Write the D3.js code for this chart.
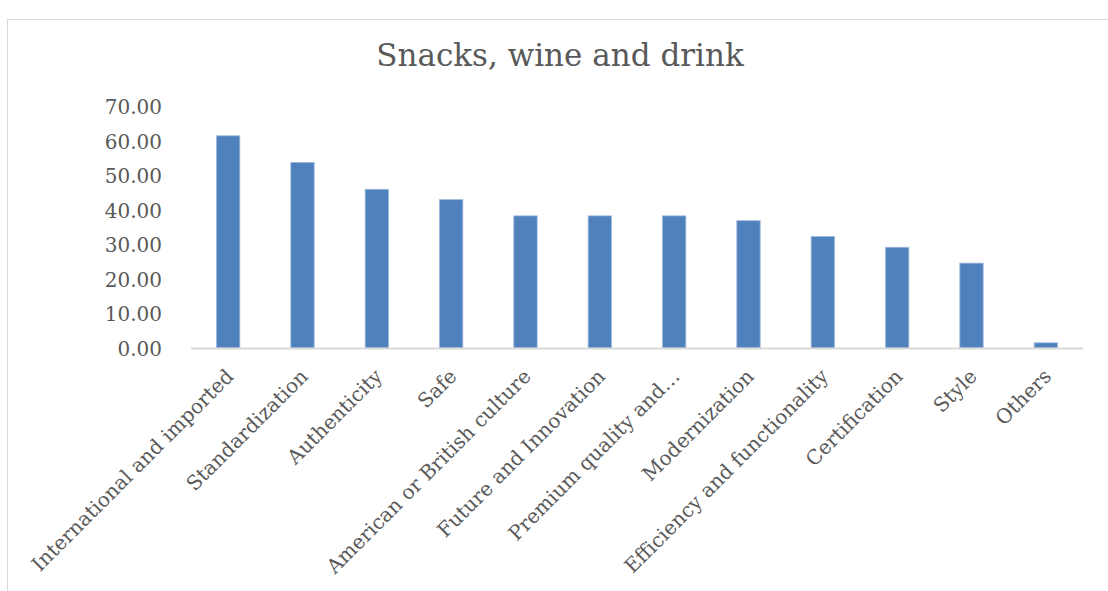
<!DOCTYPE html>
<html>
<head>
<meta charset="utf-8">
<script src="https://cdn.jsdelivr.net/npm/d3@7"></script>
<style>
    body { margin: 0; background: #fff; }
    #chart { width: 1108px; height: 591px; }
    .title { font-family: "DejaVu Serif", serif; font-size: 31px; fill: #595959; text-anchor: middle; }
    .tick-label { font-family: "DejaVu Serif", serif; font-size: 20px; fill: #595959; }
</style>
</head>
<body>
<div id="chart"></div>
<script>
const categories = ["International and imported", "Standardization", "Authenticity", "Safe",
    "American or British culture", "Future and Innovation", "Premium quality and…", "Modernization",
    "Efficiency and functionality", "Certification", "Style", "Others"];
const values = [61.5, 53.8, 46.0, 43.0, 38.3, 38.3, 38.3, 36.9, 32.3, 29.2, 24.6, 1.5];
const yTicks = [0, 10, 20, 30, 40, 50, 60, 70];

function renderChart() {
    const width = 1108;
    const height = 591;
    const plotLeft = 191;
    const plotRight = 1083;
    const plotBottom = 348;
    const plotTop = 106.5;

    const svg = d3.select("#chart").append("svg")
        .attr("width", width)
        .attr("height", height);

    // chart frame (cropped on the right and bottom)
    svg.append("rect")
        .attr("x", 7.5)
        .attr("y", 19.5)
        .attr("width", 1200)
        .attr("height", 700)
        .attr("fill", "none")
        .attr("stroke", "#d9d9d9")
        .attr("stroke-width", 1);

    svg.append("text")
        .attr("class", "title")
        .attr("x", 560)
        .attr("y", 66)
        .text("Snacks, wine and drink");

    const xScale = d3.scaleBand()
        .domain(categories)
        .range([plotLeft, plotRight])
        .paddingInner(0.686)
        .paddingOuter(0.343);

    const yScale = d3.scaleLinear()
        .domain([0, 70])
        .range([plotBottom, plotTop]);

    // y-axis labels
    const yAxis = svg.append("g")
        .attr("transform", `translate(${plotLeft - 29}, 0)`)
        .call(d3.axisLeft(yScale).tickValues(yTicks).tickFormat(d3.format(".2f")).tickSize(0).tickPadding(0));
    yAxis.select(".domain").remove();
    yAxis.selectAll("text")
        .attr("class", "tick-label")
        .attr("dy", "0.35em");

    // bars
    svg.selectAll(".bar")
        .data(values)
        .join("rect")
        .attr("class", "bar")
        .attr("x", function (d, i) { return xScale(categories[i]); })
        .attr("y", function (d) { return yScale(d); })
        .attr("width", xScale.bandwidth())
        .attr("height", function (d) { return yScale(0) - yScale(d); })
        .attr("fill", "#4f81bd")
        .attr("stroke", "#9db7dc")
        .attr("stroke-width", 0.8);

    // x-axis line
    svg.append("line")
        .attr("x1", plotLeft)
        .attr("x2", plotRight)
        .attr("y1", plotBottom + 0.5)
        .attr("y2", plotBottom + 0.5)
        .attr("stroke", "#d9d9d9")
        .attr("stroke-width", 2);

    // rotated category labels
    svg.selectAll(".cat-label")
        .data(categories)
        .join("text")
        .attr("class", "tick-label cat-label")
        .attr("text-anchor", "end")
        .attr("dy", "0.75em")
        .attr("transform", function (d) {
            return `translate(${xScale(d) + xScale.bandwidth() / 2 - 4}, ${plotBottom + 19}) rotate(-45)`;
        })
        .text(function (d) { return d; });
}

renderChart();
</script>
</body>
</html>
